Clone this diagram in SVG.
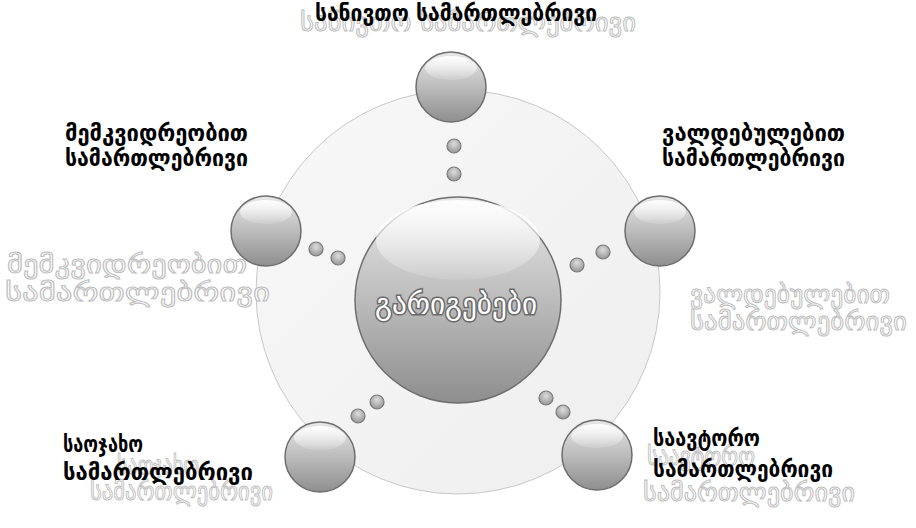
<svg xmlns="http://www.w3.org/2000/svg" width="916" height="528" viewBox="0 0 916 528">
<defs>
<linearGradient id="bg" x1="0" y1="0" x2="1" y2="1">
<stop offset="0" stop-color="#f8f8f8"/>
<stop offset="1" stop-color="#eeeeee"/>
</linearGradient>
<linearGradient id="ball" x1="0" y1="0" x2="0" y2="1">
<stop offset="0" stop-color="#e8e8e8"/>
<stop offset="0.45" stop-color="#c0c0c0"/>
<stop offset="1" stop-color="#8e8e8e"/>
</linearGradient>
<linearGradient id="gloss" x1="0" y1="0" x2="0" y2="1">
<stop offset="0" stop-color="#ffffff" stop-opacity="0.95"/>
<stop offset="1" stop-color="#ffffff" stop-opacity="0.1"/>
</linearGradient>
<radialGradient id="dot" cx="0.5" cy="0.35" r="0.6">
<stop offset="0" stop-color="#dddddd"/>
<stop offset="1" stop-color="#9a9a9a"/>
</radialGradient>
</defs>
<style>
.ball{fill:url(#ball);stroke:#6e6e6e;stroke-width:1.5}
.gloss{fill:url(#gloss)}
.dot{fill:url(#dot);stroke:#7a7a7a;stroke-width:1.2}
.lbl{font-family:"DejaVu Sans","Noto Sans",sans-serif;font-size:24px;font-weight:bold;fill:#000}
.ghost{font-family:"DejaVu Sans","Noto Sans",sans-serif;font-size:26px;fill:#fff;stroke:#bdbdbd;stroke-width:1}
.ctr{font-family:"DejaVu Sans","Noto Sans",sans-serif;font-size:29px;fill:#fff;stroke:#6a6a6a;stroke-width:3;paint-order:stroke}
</style>
<rect width="916" height="528" fill="#fff"/>
<g id="backdrop">
<circle cx="458" cy="292" r="202" fill="url(#bg)" stroke="#c8c8c8" stroke-width="1"/>
</g>
<g id="connectors">
<circle class="dot" cx="454" cy="146" r="7"/>
<circle class="dot" cx="454" cy="174" r="7"/>
<circle class="dot" cx="316" cy="249" r="7"/>
<circle class="dot" cx="338" cy="258" r="7"/>
<circle class="dot" cx="603" cy="252" r="7"/>
<circle class="dot" cx="577" cy="265" r="7"/>
<circle class="dot" cx="377" cy="402" r="7"/>
<circle class="dot" cx="358" cy="416" r="7"/>
<circle class="dot" cx="546" cy="398" r="7"/>
<circle class="dot" cx="563" cy="412" r="7"/>
</g>
<g id="center">
<circle class="ball" cx="458" cy="300" r="103"/>
<ellipse class="gloss" cx="458" cy="240" rx="82" ry="40"/>
<text class="ctr" x="456" y="314" text-anchor="middle" textLength="162" lengthAdjust="spacingAndGlyphs">გარიგებები</text>
</g>
<g id="n-top">
<text class="ghost" x="300" y="31" textLength="336" lengthAdjust="spacingAndGlyphs">სანივთო სამართლებრივი</text>
<text class="lbl" x="315" y="21" font-size="20" textLength="282" lengthAdjust="spacingAndGlyphs">სანივთო სამართლებრივი</text>
<circle class="ball" cx="451" cy="87" r="35"/>
<ellipse class="gloss" cx="451" cy="68" rx="26" ry="12"/>
</g>
<g id="n-left">
<text class="ghost" x="7" y="273" textLength="240" lengthAdjust="spacingAndGlyphs">მემკვიდრეობით</text>
<text class="ghost" x="5" y="301" textLength="265" lengthAdjust="spacingAndGlyphs">სამართლებრივი</text>
<text class="lbl" x="65" y="141" textLength="183" lengthAdjust="spacingAndGlyphs">მემკვიდრეობით</text>
<text class="lbl" x="65" y="166" textLength="183" lengthAdjust="spacingAndGlyphs">სამართლებრივი</text>
<circle class="ball" cx="266" cy="231" r="35"/>
<ellipse class="gloss" cx="266" cy="212" rx="26" ry="12"/>
</g>
<g id="n-right">
<text class="ghost" x="690" y="303" textLength="200" lengthAdjust="spacingAndGlyphs">ვალდებულებით</text>
<text class="ghost" x="690" y="330" textLength="217" lengthAdjust="spacingAndGlyphs">სამართლებრივი</text>
<text class="lbl" x="662" y="141" textLength="183" lengthAdjust="spacingAndGlyphs">ვალდებულებით</text>
<text class="lbl" x="662" y="166" textLength="183" lengthAdjust="spacingAndGlyphs">სამართლებრივი</text>
<circle class="ball" cx="660" cy="231" r="35"/>
<ellipse class="gloss" cx="660" cy="212" rx="26" ry="12"/>
</g>
<g id="n-bottom-left">
<text class="ghost" x="117" y="474" textLength="82" lengthAdjust="spacingAndGlyphs">საოჯახო</text>
<text class="ghost" x="90" y="500" textLength="183" lengthAdjust="spacingAndGlyphs">სამართლებრივი</text>
<text class="lbl" x="63" y="452" textLength="80" lengthAdjust="spacingAndGlyphs">საოჯახო</text>
<text class="lbl" x="63" y="480" textLength="190" lengthAdjust="spacingAndGlyphs">სამართლებრივი</text>
<circle class="ball" cx="320" cy="457" r="35"/>
<ellipse class="gloss" cx="320" cy="438" rx="26" ry="12"/>
</g>
<g id="n-bottom-right">
<text class="ghost" x="647" y="465" textLength="108" lengthAdjust="spacingAndGlyphs">საავტორო</text>
<text class="ghost" x="643" y="501" textLength="212" lengthAdjust="spacingAndGlyphs">სამართლებრივი</text>
<text class="lbl" x="653" y="446" textLength="107" lengthAdjust="spacingAndGlyphs">საავტორო</text>
<text class="lbl" x="653" y="477" textLength="180" lengthAdjust="spacingAndGlyphs">სამართლებრივი</text>
<circle class="ball" cx="597" cy="455" r="35"/>
<ellipse class="gloss" cx="597" cy="436" rx="26" ry="12"/>
</g>
</svg>
